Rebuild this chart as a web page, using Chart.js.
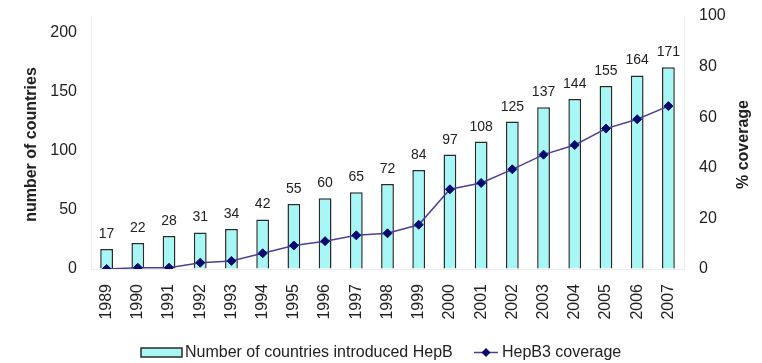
<!DOCTYPE html>
<html>
<head>
<meta charset="utf-8">
<script src="https://cdn.jsdelivr.net/npm/chart.js@4"></script>
<style>
  html, body { margin: 0; padding: 0; background: #fff; }
  #wrap { width: 762px; height: 363px; }
</style>
</head>
<body>
<div id="wrap"><canvas id="hepChart" width="762" height="363"></canvas></div>
<script>
// HepB introduction vs HepB3 coverage, 1989–2007
const years = ['1989', '1990', '1991', '1992', '1993', '1994', '1995', '1996', '1997', '1998',
    '1999', '2000', '2001', '2002', '2003', '2004', '2005', '2006', '2007'];
const countriesIntroduced = [17, 22, 28, 31, 34, 42, 55, 60, 65, 72, 84, 97, 108, 125, 137, 144, 155, 164, 171];
const hepB3Coverage = [0, 0.5, 0.5, 2.5, 3.2, 6.2, 9.3, 11, 13.3, 14.1, 17.5, 31.5, 34, 39.4, 45.2, 49, 55.5, 59.2, 64.4];
const countryTicks = [0, 50, 100, 150, 200];
const coverageTicks = [0, 20, 40, 60, 80, 100];

const FONT = "'Liberation Sans', Arial, sans-serif";
const BAR_FILL = '#a8f7f7';
const BAR_EDGE = '#2a2a2a';
const LINE_COLOR = '#4b3f98';
const MARKER_COLOR = '#0a0a6e';

Chart.defaults.font.family = FONT;
Chart.defaults.font.size = 16;
Chart.defaults.color = '#222';

// invisible tick marks: push the labels away from the axis without
// adding to the scale's top padding (ticks.padding would)
const hiddenTicks = (len) => ({
    display: true, drawOnChartArea: false, drawTicks: true,
    tickLength: len, color: 'rgba(0,0,0,0)',
});

// numbers above the bars
const valueLabels = {
    id: 'valueLabels',
    afterDatasetsDraw(chart) {
        const meta = chart.getDatasetMeta(0);
        const ctx = chart.ctx;
        ctx.save();
        ctx.font = `14px ${FONT}`;
        ctx.fillStyle = '#222';
        ctx.textAlign = 'center';
        ctx.textBaseline = 'alphabetic';
        meta.data.forEach((bar, i) => {
            ctx.fillText(String(countriesIntroduced[i]), bar.x, bar.y - 11);
        });
        ctx.restore();
    }
};

// axis titles + bottom legend (Excel style)
const decorations = {
    id: 'decorations',
    afterDraw(chart) {
        const ctx = chart.ctx;
        const area = chart.chartArea;
        const midY = (area.top + area.bottom) / 2 + 2;
        ctx.save();
        ctx.fillStyle = '#222';
        ctx.font = `bold 16px ${FONT}`;
        ctx.textAlign = 'center';
        ctx.textBaseline = 'middle';
        ctx.translate(32, midY);
        ctx.rotate(-Math.PI / 2);
        ctx.fillText('number of countries', 0, 0);
        ctx.restore();

        ctx.save();
        ctx.fillStyle = '#222';
        ctx.font = `bold 16px ${FONT}`;
        ctx.textAlign = 'center';
        ctx.textBaseline = 'middle';
        ctx.translate(744, midY);
        ctx.rotate(-Math.PI / 2);
        ctx.fillText('% coverage', 0, 0);
        ctx.restore();

        // legend
        const ly = 352.5;
        ctx.save();
        ctx.font = `16px ${FONT}`;
        ctx.textBaseline = 'middle';
        ctx.fillStyle = BAR_FILL;
        ctx.strokeStyle = BAR_EDGE;
        ctx.lineWidth = 1.5;
        ctx.fillRect(141, 348, 41, 9);
        ctx.strokeRect(141, 348, 41, 9);
        ctx.fillStyle = '#222';
        ctx.fillText(chart.data.datasets[0].label, 185, ly);

        ctx.strokeStyle = LINE_COLOR;
        ctx.lineWidth = 1.5;
        ctx.beginPath();
        ctx.moveTo(474, ly);
        ctx.lineTo(498, ly);
        ctx.stroke();
        ctx.fillStyle = MARKER_COLOR;
        ctx.beginPath();
        ctx.moveTo(486, ly - 4.5);
        ctx.lineTo(490.5, ly);
        ctx.lineTo(486, ly + 4.5);
        ctx.lineTo(481.5, ly);
        ctx.closePath();
        ctx.fill();
        ctx.fillStyle = '#222';
        ctx.fillText(chart.data.datasets[1].label, 502, ly);
        ctx.restore();
    }
};

new Chart(document.getElementById('hepChart'), {
    type: 'bar',
    data: {
        labels: years,
        datasets: [
            {
                type: 'bar',
                label: 'Number of countries introduced HepB',
                data: countriesIntroduced,
                yAxisID: 'y',
                backgroundColor: BAR_FILL,
                borderColor: BAR_EDGE,
                borderWidth: 1.5,
                barPercentage: 0.41,
                categoryPercentage: 1,
                order: 1,
            },
            {
                type: 'line',
                label: 'HepB3 coverage',
                data: hepB3Coverage,
                yAxisID: 'y1',
                borderColor: LINE_COLOR,
                borderWidth: 1.5,
                backgroundColor: MARKER_COLOR,
                pointStyle: 'rectRot',
                pointRadius: 4.5,
                pointBackgroundColor: MARKER_COLOR,
                pointBorderColor: MARKER_COLOR,
                pointBorderWidth: 1,
                tension: 0,
                order: 0,
            }
        ]
    },
    options: {
        responsive: false,
        animation: false,
        layout: { padding: { top: 16, bottom: 0, left: 0, right: 0 } },
        plugins: {
            legend: { display: false },
            tooltip: { enabled: false },
        },
        scales: {
            x: {
                offset: true,
                grid: { display: false },
                border: { display: true, color: '#ececec' },
                ticks: { maxRotation: 90, minRotation: 90, padding: 7, autoSkip: false, font: { size: 16 } },
                afterFit(scale) { scale.height = 94; },
            },
            y: {
                position: 'left',
                min: 0,
                max: 200 * 253 / 236,
                grid: hiddenTicks(13),
                border: { display: true, color: '#ececec' },
                ticks: { padding: 1, font: { size: 16 } },
                afterBuildTicks(scale) { scale.ticks = countryTicks.map(v => ({ value: v })); },
                afterFit(scale) { scale.width = 91; },
            },
            y1: {
                position: 'right',
                min: 0,
                max: 100,
                grid: hiddenTicks(14),
                border: { display: true, color: '#ececec' },
                ticks: { padding: 1, font: { size: 16 } },
                afterBuildTicks(scale) { scale.ticks = coverageTicks.map(v => ({ value: v })); },
                afterFit(scale) { scale.width = 78; },
            }
        }
    },
    plugins: [valueLabels, decorations]
});
</script>
</body>
</html>
